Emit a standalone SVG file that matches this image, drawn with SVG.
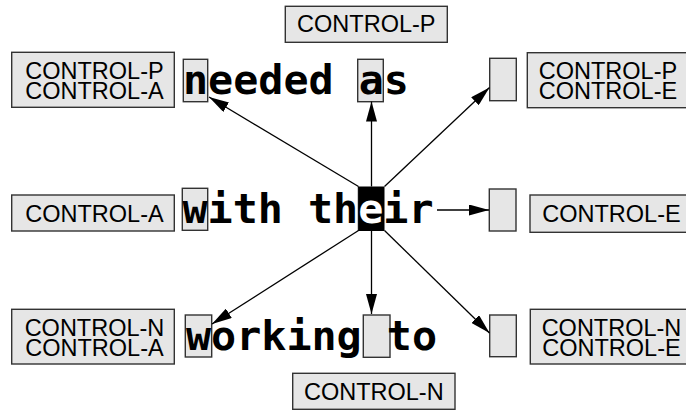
<svg xmlns="http://www.w3.org/2000/svg" width="686" height="410" viewBox="0 0 686 410">
<defs>
<style>
.box{fill:#e6e6e6;stroke:#333;stroke-width:1.4}
.cell{fill:#e6e6e6;stroke:#333;stroke-width:1.4}
.lbl{font-family:"Liberation Sans",Arial,sans-serif;font-size:23.5px;fill:#000;text-anchor:middle}
.word{font-family:"DejaVu Sans Mono",monospace;font-weight:bold;font-size:41.7px;fill:#000}
.conn line{stroke:#000;stroke-width:1.3;fill:none}
</style>
<marker id="ah" viewBox="0 0 20 11" refX="20" refY="5.5" markerWidth="20" markerHeight="11" markerUnits="userSpaceOnUse" orient="auto">
<path d="M0,0 L20,5.5 L0,11 Z" fill="#000"/>
</marker>
</defs>
<rect width="686" height="410" fill="#fff"/>

<g id="cells">
<rect class="cell" x="183.3" y="59.3" width="24.4" height="42.4"/>
<rect class="cell" x="357.7" y="59.3" width="25.6" height="42.4"/>
<rect class="cell" x="489.7" y="58.3" width="26.6" height="42.4"/>
<rect class="cell" x="182.3" y="188.3" width="25.4" height="42"/>
<rect x="358.3" y="187" width="25.7" height="43.5" fill="#000" stroke="#000" stroke-width="1"/>
<rect class="cell" x="489.3" y="189" width="26.7" height="42"/>
<rect class="cell" x="185.3" y="315" width="26.4" height="42"/>
<rect class="cell" x="363.3" y="315" width="26.7" height="42.3"/>
<rect class="cell" x="489.7" y="315" width="26.6" height="41.7"/>
</g>

<g id="row-top"><text class="word" x="183" y="94">needed as</text></g>
<g id="row-mid"><text class="word" x="182.5" y="223">with th<tspan fill="#fff">e</tspan>ir</text></g>
<g id="row-bot"><text class="word" x="186" y="350">working to</text></g>

<g id="lbl-top">
<rect class="box" x="285.3" y="6.3" width="162" height="36"/>
<text class="lbl" x="366.3" y="32">CONTROL-P</text>
</g>
<g id="lbl-tl">
<rect class="box" x="11.7" y="52.3" width="162.6" height="55"/>
<text class="lbl" x="94.5" y="79">CONTROL-P</text>
<text class="lbl" x="94.5" y="99">CONTROL-A</text>
</g>
<g id="lbl-tr">
<rect class="box" x="527.3" y="52.7" width="162.6" height="55"/>
<text class="lbl" x="608" y="79.4">CONTROL-P</text>
<text class="lbl" x="608" y="99.4">CONTROL-E</text>
</g>
<g id="lbl-ml">
<rect class="box" x="11.7" y="195" width="162.6" height="36"/>
<text class="lbl" x="94.5" y="221.5">CONTROL-A</text>
</g>
<g id="lbl-mr">
<rect class="box" x="530" y="195" width="162.6" height="37.3"/>
<text class="lbl" x="611.5" y="222">CONTROL-E</text>
</g>
<g id="lbl-bl">
<rect class="box" x="11.7" y="309.3" width="162.6" height="54.7"/>
<text class="lbl" x="94.5" y="336">CONTROL-N</text>
<text class="lbl" x="94.5" y="356">CONTROL-A</text>
</g>
<g id="lbl-br">
<rect class="box" x="530.3" y="309.3" width="162.6" height="54.7"/>
<text class="lbl" x="611.5" y="336">CONTROL-N</text>
<text class="lbl" x="611.5" y="356">CONTROL-E</text>
</g>
<g id="lbl-bot">
<rect class="box" x="292.7" y="373.3" width="162.3" height="36"/>
<text class="lbl" x="373.8" y="400">CONTROL-N</text>
</g>

<g id="connectors" class="conn">
<line x1="371.5" y1="186.5" x2="371.5" y2="101.5" marker-end="url(#ah)"/>
<line x1="358.5" y1="186.5" x2="209" y2="97" marker-end="url(#ah)"/>
<line x1="384.5" y1="186.5" x2="489.5" y2="87.5" marker-end="url(#ah)"/>
<line x1="437" y1="210" x2="489" y2="210" marker-end="url(#ah)"/>
<line x1="358.5" y1="230.5" x2="212" y2="324" marker-end="url(#ah)"/>
<line x1="371.5" y1="230.5" x2="371.5" y2="314" marker-end="url(#ah)"/>
<line x1="384.5" y1="230.5" x2="489.5" y2="333" marker-end="url(#ah)"/>
</g>
</svg>
